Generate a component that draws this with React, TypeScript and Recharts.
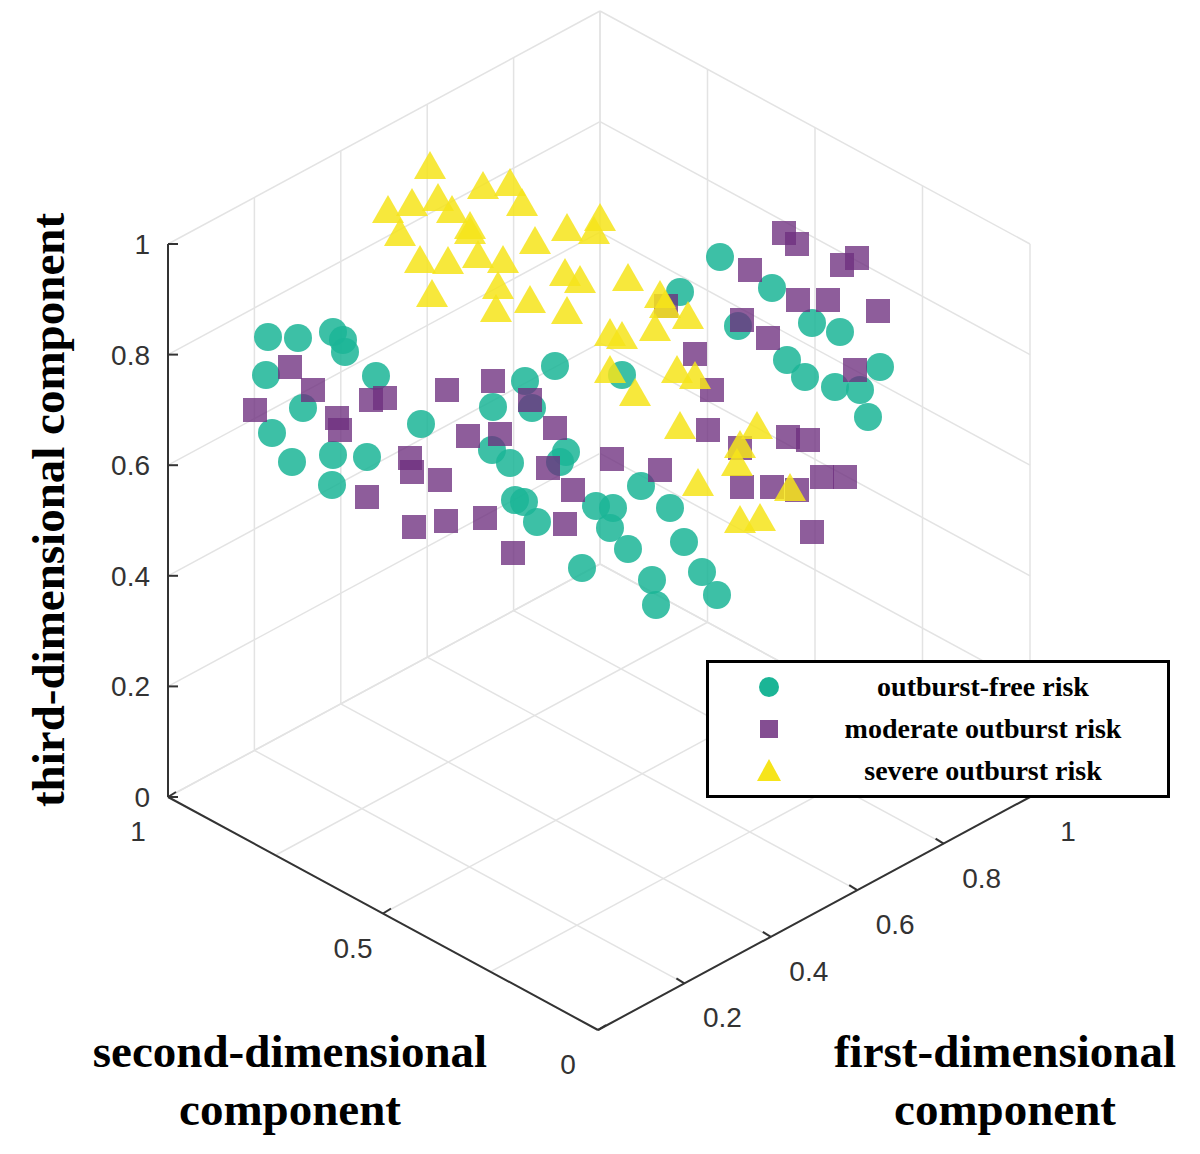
import React from 'react';
import { ScatterChart, Scatter, XAxis, YAxis, ReferenceLine } from 'recharts';

// Projected positions of the points (image pixel space)
const freeRisk = [
  [268, 337], [298, 338], [333, 332], [343, 340], [345, 352], [266, 375], [303, 408], [376, 376],
  [272, 433], [292, 462], [333, 455], [332, 485], [367, 457], [421, 424], [493, 407], [525, 381],
  [555, 366], [532, 408], [492, 450], [510, 463], [515, 500], [524, 502], [537, 522], [566, 452],
  [560, 462], [582, 568], [596, 506], [613, 508], [610, 528], [628, 549], [641, 486], [670, 508],
  [684, 542], [652, 580], [656, 605], [702, 572], [717, 595], [622, 375], [680, 292], [720, 257],
  [738, 326], [772, 288], [787, 360], [805, 377], [812, 323], [840, 332], [835, 387], [860, 390],
  [880, 367], [868, 417],
].map(([x, y]) => ({ x, y }));

const moderateRisk = [
  [255, 410], [290, 367], [313, 390], [337, 418], [340, 430], [371, 400], [385, 398], [447, 390],
  [410, 458], [412, 472], [440, 480], [367, 497], [414, 527], [446, 521], [485, 518], [513, 553],
  [468, 436], [493, 381], [500, 434], [530, 400], [555, 428], [548, 468], [573, 490], [565, 524],
  [612, 459], [660, 470], [666, 306], [695, 354], [712, 390], [708, 430], [740, 448], [742, 487],
  [750, 270], [784, 233], [797, 244], [798, 300], [828, 300], [842, 265], [857, 258], [878, 311],
  [768, 338], [742, 320], [788, 437], [808, 440], [855, 370], [822, 477], [845, 477], [772, 487],
  [797, 490], [812, 532],
].map(([x, y]) => ({ x, y }));

const severeRisk = [
  [388, 212], [400, 235], [412, 205], [430, 168], [438, 200], [452, 212], [470, 228], [483, 188],
  [510, 185], [522, 205], [420, 262], [448, 263], [432, 296], [478, 257], [503, 262], [498, 288],
  [496, 311], [470, 233], [530, 302], [535, 243], [567, 230], [594, 233], [600, 220], [565, 275],
  [580, 282], [567, 313], [610, 335], [622, 338], [628, 280], [660, 297], [655, 330], [688, 318],
  [610, 372], [635, 395], [680, 428], [677, 372], [695, 378], [698, 485], [737, 465], [740, 522],
  [760, 520], [740, 447], [757, 428], [790, 490], [665, 307],
].map(([x, y]) => ({ x, y }));

const zTicks = [0, 0.2, 0.4, 0.6, 0.8, 1];
const firstTicks = [0.2, 0.4, 0.6, 0.8, 1];
const secondTicks = [0, 0.5, 1];

// projection of the 3D box: a = first, b = second, c = third component
const O = [598, 1030];
const A = [432, -233];
const B = [-430, -233];
const C = [0, -553];
const proj = (a: number, b: number, c: number) => ({
  x: O[0] + a * A[0] + b * B[0] + c * C[0],
  y: O[1] + a * A[1] + b * B[1] + c * C[1],
});

const steps = [0, 0.2, 0.4, 0.6, 0.8, 1];
const bSteps = [0, 0.25, 0.5, 0.75, 1];

type Seg = [{ x: number; y: number }, { x: number; y: number }];
const grid: Seg[] = [];
steps.forEach((a) => grid.push([proj(a, 0, 0), proj(a, 1, 0)]));
bSteps.forEach((b) => grid.push([proj(0, b, 0), proj(1, b, 0)]));
steps.forEach((a) => grid.push([proj(a, 1, 0), proj(a, 1, 1)]));
steps.forEach((c) => grid.push([proj(0, 1, c), proj(1, 1, c)]));
bSteps.forEach((b) => grid.push([proj(1, b, 0), proj(1, b, 1)]));
steps.forEach((c) => grid.push([proj(1, 0, c), proj(1, 1, c)]));

const axes: Seg[] = [
  [proj(0, 1, 0), proj(0, 1, 1)],
  [proj(0, 1, 0), proj(0, 0, 0)],
  [proj(0, 0, 0), proj(1, 0, 0)],
];

const GREEN = '#1bb596';
const PURPLE = '#6e2f7f';
const YELLOW = '#f6e41a';

const Circle = (p: any) => <circle cx={p.cx} cy={p.cy} r={14} fill={GREEN} fillOpacity={0.85} />;
const Square = (p: any) => <rect x={p.cx - 12} y={p.cy - 12} width={24} height={24} fill={PURPLE} fillOpacity={0.78} />;
const Triangle = (p: any) => (
  <polygon
    points={`${p.cx},${p.cy - 17} ${p.cx + 16},${p.cy + 11} ${p.cx - 16},${p.cy + 11}`}
    fill={YELLOW}
    fillOpacity={0.85}
  />
);

const W = 1200;
const H = 1154;
const tickFont = { fontFamily: 'Liberation Sans, Arial, sans-serif', fontSize: 28, fill: '#333' };
const labelFont: React.CSSProperties = {
  fontFamily: 'Liberation Serif, Times New Roman, serif',
  fontWeight: 'bold',
  fontSize: 47,
  color: '#000',
  position: 'absolute',
  textAlign: 'center',
  lineHeight: '58px',
};

export default function App() {
  return (
    <div style={{ position: 'absolute', left: 0, top: 0, width: W, height: H, background: '#fff' }}>
      <ScatterChart width={W} height={H} margin={{ top: 0, right: 0, bottom: 0, left: 0 }}>
        <XAxis type="number" dataKey="x" domain={[0, W]} hide allowDataOverflow />
        <YAxis type="number" dataKey="y" domain={[0, H]} reversed hide allowDataOverflow />
        {grid.map((s, i) => (
          <ReferenceLine key={'g' + i} segment={s} stroke="#e3e3e3" strokeWidth={1.5} />
        ))}
        {axes.map((s, i) => (
          <ReferenceLine key={'a' + i} segment={s} stroke="#333" strokeWidth={2} />
        ))}
        {zTicks.map((c) => {
          const p = proj(0, 1, c);
          return (
            <ReferenceLine
              key={'z' + c}
              segment={[p, { x: p.x + 10, y: p.y }]}
              stroke="#333"
              strokeWidth={2}
              label={{ value: String(c), position: 'left', offset: 18, ...tickFont }}
            />
          );
        })}
        {firstTicks.map((a) => {
          const p = proj(a, 0, 0);
          return (
            <ReferenceLine key={'f' + a} segment={[p, { x: p.x - 8, y: p.y - 5 }]} stroke="#333" strokeWidth={2} />
          );
        })}
        {secondTicks.map((b) => {
          const p = proj(0, b, 0);
          return (
            <ReferenceLine key={'s' + b} segment={[p, { x: p.x + 8, y: p.y - 5 }]} stroke="#333" strokeWidth={2} />
          );
        })}
        <Scatter data={freeRisk} fill={GREEN} shape={Circle} isAnimationActive={false} />
        <Scatter data={moderateRisk} fill={PURPLE} shape={Square} isAnimationActive={false} />
        <Scatter data={severeRisk} fill={YELLOW} shape={Triangle} isAnimationActive={false} />
      </ScatterChart>
      <svg width={W} height={H} style={{ position: 'absolute', left: 0, top: 0, pointerEvents: 'none' }}>
        {firstTicks.map((a) => {
          const p = proj(a, 0, 0);
          return (
            <text key={a} x={p.x + 38} y={p.y + 44} textAnchor="middle" {...tickFont}>
              {a}
            </text>
          );
        })}
        {secondTicks.map((b) => {
          const p = proj(0, b, 0);
          return (
            <text key={b} x={p.x - 30} y={p.y + 44} textAnchor="middle" {...tickFont}>
              {b}
            </text>
          );
        })}
      </svg>
      <div style={{ ...labelFont, left: 48, top: 510, width: 700, transform: 'translate(-50%,-50%) rotate(-90deg)', whiteSpace: 'nowrap' }}>
        third-dimensional component
      </div>
      <div style={{ ...labelFont, left: 40, top: 1022, width: 500 }}>
        second-dimensional<br />component
      </div>
      <div style={{ ...labelFont, left: 760, top: 1022, width: 490 }}>
        first-dimensional<br />component
      </div>
      <div
        style={{
          position: 'absolute',
          left: 706,
          top: 660,
          width: 458,
          height: 132,
          border: '3px solid #000',
          background: '#fff',
          fontFamily: 'Liberation Serif, Times New Roman, serif',
          fontWeight: 'bold',
          fontSize: 28,
        }}
      >
        {[
          { t: 'outburst-free risk', s: 'c', c: GREEN },
          { t: 'moderate outburst risk', s: 's', c: PURPLE },
          { t: 'severe outburst risk', s: 't', c: YELLOW },
        ].map((r, i) => (
          <div key={i} style={{ position: 'absolute', top: 6 + i * 42, left: 0, width: 458, height: 36, display: 'flex', alignItems: 'center' }}>
            <svg width={60} height={36} style={{ marginLeft: 30 }}>
              {r.s === 'c' && <circle cx={30} cy={18} r={10} fill={r.c} />}
              {r.s === 's' && <rect x={21} y={9} width={18} height={18} fill={r.c} fillOpacity={0.85} />}
              {r.s === 't' && <polygon points="30,6 42,28 18,28" fill={r.c} />}
            </svg>
            <span style={{ flex: 1, textAlign: 'center', whiteSpace: 'nowrap' }}>{r.t}</span>
          </div>
        ))}
      </div>
    </div>
  );
}
